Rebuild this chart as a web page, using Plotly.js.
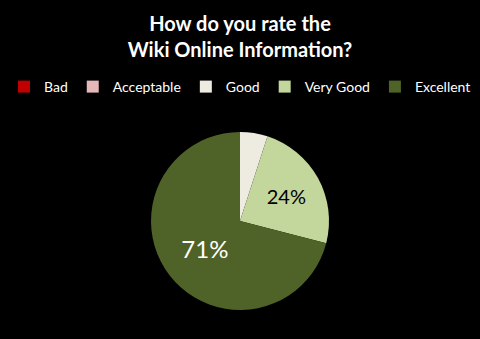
<!DOCTYPE html>
<html>
<head>
<meta charset="utf-8">
<script src="https://cdn.plot.ly/plotly-3.0.1.min.js"></script>
<style>html,body{margin:0;padding:0;background:#000;}#chart{width:480px;height:339px;}</style>
</head>
<body>
<div id="chart"></div>
<script>
const categories = ["Bad", "Acceptable", "Good", "Very Good", "Excellent"];
const values = [0, 0, 5, 24, 71];
const colors = ["#C00000", "#E6B9B8", "#EEECE1", "#C3D69B", "#4F6228"];
const labelTemplates = ["", "", "", "%{percent:.0%}", "%{percent:.0%}"];
const labelColors = ["#000", "#000", "#000", "#000", "#FFFFFF"];
const labelSizes = [20, 20, 20, 20, 24];

const trace = {
  type: "pie",
  labels: categories,
  values: values,
  sort: false,
  direction: "clockwise",
  rotation: 0,
  marker: { colors: colors, line: { width: 0 } },
  texttemplate: labelTemplates,
  textposition: "inside",
  insidetextorientation: "horizontal",
  textfont: { family: "Lato, 'Open Sans', sans-serif", color: labelColors, size: labelSizes },
  hoverinfo: "label+percent",
  showlegend: true
};

const layout = {
  width: 480,
  height: 339,
  paper_bgcolor: "#000",
  plot_bgcolor: "#000",
  margin: { t: 132, b: 29, l: 0, r: 0 },
  title: {
    text: "<b>How do you rate the<br>Wiki Online Information?</b>",
    font: { family: "Lato, 'Open Sans', sans-serif", size: 20, color: "#FFFFFF" },
    x: 0.5, xanchor: "center",
    y: 1 - 31 / 339, yref: "container", yanchor: "middle"
  },
  legend: {
    orientation: "h",
    x: 0.5, xanchor: "center",
    y: 1 - 87 / 339, yref: "container", yanchor: "middle",
    font: { family: "Lato, 'Open Sans', sans-serif", size: 14, color: "#FFFFFF" },
    itemwidth: 30,
    traceorder: "normal"
  },
  showlegend: true
};

Plotly.newPlot("chart", [trace], layout, { displayModeBar: false, staticPlot: true });
</script>
</body>
</html>
